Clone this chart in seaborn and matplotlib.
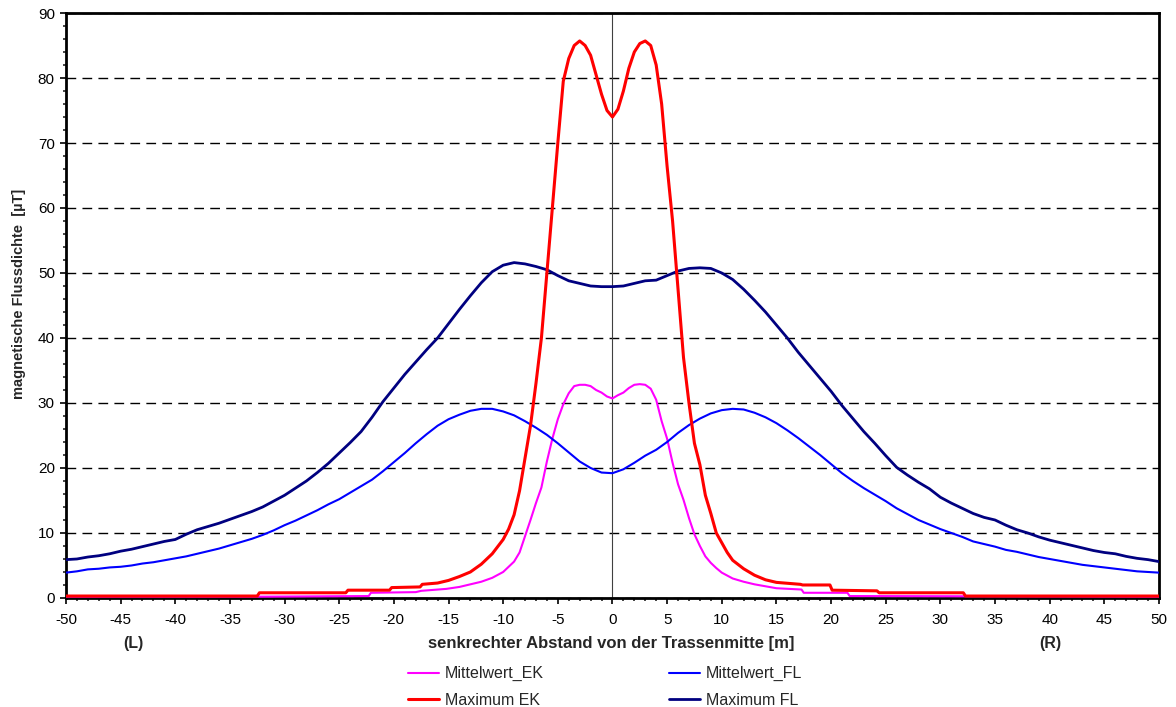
import numpy as np
import pandas as pd
import matplotlib
matplotlib.use("Agg")
import matplotlib.pyplot as plt
from matplotlib.ticker import MultipleLocator
import seaborn as sns

# Abstand [m], FL-Kurven mit 1 m Raster
x_fl = list(range(-50, 51))
mittelwert_fl = [3.9, 4.1, 4.4, 4.5, 4.7, 4.8, 5.0, 5.3, 5.5, 5.8,
                 6.1, 6.4, 6.8, 7.2, 7.6, 8.1, 8.6, 9.1, 9.7, 10.4,
                 11.2, 11.9, 12.7, 13.5, 14.4, 15.2, 16.2, 17.2, 18.2, 19.5,
                 20.9, 22.3, 23.8, 25.2, 26.5, 27.5, 28.2, 28.8, 29.1, 29.1,
                 28.7, 28.1, 27.2, 26.2, 25.1, 23.8, 22.4, 21.0, 20.0, 19.3,
                 19.2,
                 19.8, 20.8, 21.9, 22.8, 24.0, 25.4, 26.6, 27.6, 28.4, 28.9,
                 29.1, 29.0, 28.5, 27.8, 26.9, 25.8, 24.6, 23.3, 22.0, 20.6,
                 19.2, 18.0, 16.9, 15.9, 14.9, 13.8, 12.9, 12.0, 11.3, 10.6,
                 10.0, 9.4, 8.7, 8.3, 7.9, 7.4, 7.1, 6.7, 6.3, 6.0,
                 5.7, 5.4, 5.1, 4.9, 4.7, 4.5, 4.3, 4.1, 4.0, 3.9]
maximum_fl = [5.9, 6.0, 6.3, 6.5, 6.8, 7.2, 7.5, 7.9, 8.3, 8.7,
              9.0, 9.8, 10.5, 11.0, 11.5, 12.1, 12.7, 13.3, 14.0, 14.9,
              15.8, 16.9, 18.0, 19.3, 20.7, 22.3, 23.9, 25.6, 27.8, 30.2,
              32.3, 34.4, 36.3, 38.2, 40.0, 42.2, 44.4, 46.5, 48.5, 50.2,
              51.2, 51.6, 51.4, 51.0, 50.5, 49.6, 48.8, 48.4, 48.0, 47.9,
              47.9,
              48.0, 48.4, 48.8, 48.9, 49.6, 50.3, 50.7, 50.8, 50.7, 50.0,
              49.0, 47.5, 45.8, 44.0, 42.0, 40.0, 37.8, 35.8, 33.8, 31.8,
              29.6, 27.6, 25.6, 23.8, 21.9, 20.1, 18.9, 17.8, 16.8, 15.5,
              14.6, 13.8, 13.0, 12.4, 12.0, 11.2, 10.5, 10.0, 9.4, 8.9,
              8.5, 8.1, 7.7, 7.3, 7.0, 6.8, 6.4, 6.1, 5.9, 5.6]

# EK-Kurven, feiner in der Mitte
x_mw_ek = [-50, -32, -22.3, -22.1, -18, -17.5, -15.2, -14, -13, -12, -11, -10,
           -9.5, -9, -8.5, -8, -7.5, -7, -6.5, -6, -5.5, -5, -4.5, -4, -3.5,
           -3, -2.5, -2, -1.5, -1, -0.5, 0, 0.5, 1, 1.5, 2, 2.5, 3, 3.5, 4,
           4.5, 5, 5.5, 6, 6.5, 7, 7.5, 8, 8.5, 9, 9.5, 10, 11, 12, 13, 14,
           15, 17.3, 17.5, 21.5, 21.7, 50]
mittelwert_ek = [0.2, 0.2, 0.3, 0.8, 0.9, 1.1, 1.4, 1.7, 2.1, 2.5, 3.1, 4.0,
                 4.8, 5.6, 7.0, 9.5, 12.0, 14.6, 17.0, 21.0, 24.5, 27.5, 29.8,
                 31.5, 32.6, 32.8, 32.8, 32.6, 32.0, 31.6, 31.0, 30.7, 31.2,
                 31.6, 32.3, 32.8, 32.9, 32.8, 32.2, 30.5, 27.2, 24.5, 20.8,
                 17.5, 15.1, 12.3, 9.8, 8.0, 6.4, 5.4, 4.6, 3.9, 3.0, 2.5,
                 2.1, 1.8, 1.5, 1.3, 0.8, 0.8, 0.3, 0.2]

x_max_ek = [-50, -32.5, -32.3, -24.4, -24.2, -20.4, -20.2, -17.6, -17.4, -16,
            -15, -14, -13, -12, -11, -10.5, -10, -9.5, -9, -8.5, -8, -7.5,
            -7, -6.5, -6, -5.5, -5, -4.5, -4, -3.5, -3, -2.5, -2, -1.5, -1,
            -0.5, 0, 0.5, 1, 1.5, 2, 2.5, 3, 3.5, 4, 4.5, 5, 5.5, 6, 6.5, 7,
            7.5, 8, 8.5, 9, 9.5, 10, 10.5, 11, 12, 13, 14, 15, 17.2, 17.4,
            19.9, 20.1, 24.2, 24.4, 32.1, 32.3, 50]
maximum_ek = [0.3, 0.3, 0.8, 0.8, 1.2, 1.2, 1.6, 1.7, 2.1, 2.3,
              2.7, 3.3, 4.0, 5.2, 6.8, 7.9, 9.0, 10.6, 12.8, 16.5, 21.5, 26.5,
              33.0, 40.0, 50.0, 60.0, 70.0, 79.5, 83.0, 85.0, 85.7, 85.0, 83.5,
              80.5, 77.5, 75.0, 74.0, 75.2, 78.0, 81.5, 84.0, 85.3, 85.7, 85.0,
              82.0, 76.0, 66.4, 58.0, 47.5, 37.0, 30.0, 23.8, 20.5, 15.8, 13.0,
              10.0, 8.5, 7.0, 5.8, 4.5, 3.5, 2.8, 2.4, 2.1, 2.0,
              2.0, 1.2, 1.1, 0.8, 0.8, 0.3, 0.3]

sns.set_style("white")
plt.rcParams['font.family'] = ['Liberation Sans', 'DejaVu Sans']
plt.rcParams['axes.unicode_minus'] = False

fig = plt.figure(figsize=(11.76, 7.07), dpi=100)
ax = fig.add_axes([0.0561, 0.1542, 0.9294, 0.8274])

ax.yaxis.grid(True, color='black', linestyle=(0, (7, 4.5)), linewidth=1.0)
ax.set_axisbelow(True)
ax.axvline(0, color='#404040', linewidth=0.8, zorder=1)

sns.lineplot(x=x_mw_ek, y=mittelwert_ek, color='#ff00ff', linewidth=1.5,
             label='Mittelwert_EK', sort=False, estimator=None, ax=ax, zorder=3)
sns.lineplot(x=x_max_ek, y=maximum_ek, color='#ff0000', linewidth=2.2,
             label='Maximum EK', sort=False, estimator=None, ax=ax, zorder=4)
sns.lineplot(x=x_fl, y=mittelwert_fl, color='#0000ff', linewidth=1.5,
             label='Mittelwert_FL', sort=False, estimator=None, ax=ax, zorder=3)
sns.lineplot(x=x_fl, y=maximum_fl, color='#000080', linewidth=2.0,
             label='Maximum FL', sort=False, estimator=None, ax=ax, zorder=3)

ax.set_xlim(-50, 50)
ax.set_ylim(0, 90)
ax.xaxis.set_major_locator(MultipleLocator(5))
ax.xaxis.set_minor_locator(MultipleLocator(1))
ax.yaxis.set_major_locator(MultipleLocator(10))
ax.yaxis.set_minor_locator(MultipleLocator(2))
ax.tick_params(which='major', direction='out', length=4, width=1.2,
               labelsize=11, pad=4, colors='black', bottom=True, left=True)
ax.tick_params(which='minor', direction='out', length=2.5, width=1.2,
               bottom=True, left=True)
ax.tick_params(axis='x', which='major', pad=7)

for side in ['left', 'right', 'top', 'bottom']:
    ax.spines[side].set_visible(True)
    ax.spines[side].set_color('black')
    ax.spines[side].set_linewidth(2.0)

ax.set_xlabel('')
ax.set_ylabel('magnetische Flussdichte  [µT]', fontsize=10.5, fontweight='bold')
ax.yaxis.set_label_coords(-0.037, 0.52)

fig.text(0.5196, 0.0905, 'senkrechter Abstand von der Trassenmitte [m]',
         ha='center', va='center', fontsize=12, fontweight='bold')
fig.text(0.113, 0.0905, '(L)', ha='center', va='center', fontsize=11.5,
         fontweight='bold')
fig.text(0.893, 0.0905, '(R)', ha='center', va='center', fontsize=11.5,
         fontweight='bold')

ax.get_legend().remove()
handles, labels = ax.get_legend_handles_labels()
fig.legend(handles, labels, ncol=2, loc='upper center',
           bbox_to_anchor=(0.5145, 0.069), frameon=False, fontsize=11.5,
           handlelength=1.95, handletextpad=0.4, columnspacing=7.8,
           labelspacing=0.7, borderpad=0)

fig.savefig('out.png', dpi=100)
